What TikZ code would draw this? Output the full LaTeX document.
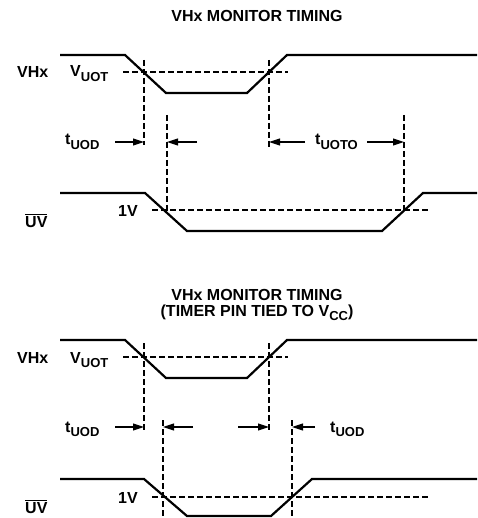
\documentclass[tikz,border=0pt]{standalone}
\usepackage{fontspec}
\setmainfont{Liberation Sans}
\usetikzlibrary{arrows.meta}
\newcommand{\sbs}[1]{\raisebox{-0.28em}{\fontsize{13}{13}\selectfont #1}}
\begin{document}
\begin{tikzpicture}[x=1pt,y=-1pt,
  font=\bfseries\fontsize{16}{17}\selectfont,
  wave/.style={line width=2.2pt, line join=miter},
  guide/.style={line width=1.1pt, dash pattern=on 6pt off 3pt},
  dim/.style={line width=1.1pt, -{Triangle[length=11pt,width=7pt]}},
  lbl/.style={inner sep=0pt, anchor=base west},
  ttl/.style={inner sep=0pt, anchor=base}]
\useasboundingbox (0,0) rectangle (477,518);

% ---------- top diagram ----------
\node[ttl] (title1) at (257,22) {VHx MONITOR TIMING};

\node[lbl] (vhxA) at (17,77.5) {VHx};
\node[lbl] (vuotA) at (70,77) {V\sbs{UOT}};
\node[lbl] (tuodA) at (65,145) {t\sbs{UOD}};
\node[lbl] (tuotoA) at (315,145) {t\sbs{UOTO}};
\node[lbl] (uvA) at (25,227) {$\overline{\mbox{UV}}$};
\node[lbl] (onevA) at (118,217) {1V};

\draw[wave] (60,55) -- (125,55) -- (166,93) -- (247,93) -- (287,55) -- (477,55);
\draw[guide] (123,72) -- (288,72);
\draw[guide] (144,60) -- (144,145);
\draw[guide] (269,60) -- (269,147);
\draw[guide] (167,115) -- (167,212);
\draw[guide] (404,115) -- (404,212);

\draw[wave] (60,193) -- (145,193) -- (187,231) -- (382,231) -- (423,193) -- (477,193);
\draw[guide] (152,210) -- (428,210);

\coordinate (a1s) at (115,142); \coordinate (a1e) at (144,142);
\coordinate (a2s) at (197,142); \coordinate (a2e) at (167,142);
\coordinate (a3s) at (305,142); \coordinate (a3e) at (269,142);
\coordinate (a4s) at (367,142); \coordinate (a4e) at (404,142);
\draw[dim] (a1s) -- (a1e);
\draw[dim] (a2s) -- (a2e);
\draw[dim] (a3s) -- (a3e);
\draw[dim] (a4s) -- (a4e);

% ---------- bottom diagram ----------
\node[ttl] (title2) at (257,300) {VHx MONITOR TIMING};
\node[ttl] (title3) at (257,316) {(TIMER PIN TIED TO V\sbs{CC})};

\node[lbl] (vhxB) at (17,363) {VHx};
\node[lbl] (vuotB) at (70,363) {V\sbs{UOT}};
\node[lbl] (tuodB) at (65,432) {t\sbs{UOD}};
\node[lbl] (tuodC) at (330,432) {t\sbs{UOD}};
\node[lbl] (uvB) at (25,513) {$\overline{\mbox{UV}}$};
\node[lbl] (onevB) at (118,503) {1V};

\draw[wave] (60,340) -- (125,340) -- (166,378) -- (247,378) -- (287,340) -- (477,340);
\draw[guide] (123,357) -- (288,357);
\draw[guide] (144,343) -- (144,432);
\draw[guide] (269,343) -- (269,432);
\draw[guide] (163,420) -- (163,518);
\draw[guide] (292,420) -- (292,518);

\draw[wave] (60,479) -- (144,479) -- (187,516) -- (271,516) -- (312,479) -- (477,479);
\draw[guide] (152,497) -- (428,497);

\coordinate (b1s) at (115,427); \coordinate (b1e) at (144,427);
\coordinate (b2s) at (193,427); \coordinate (b2e) at (163,427);
\coordinate (b3s) at (238,427); \coordinate (b3e) at (269,427);
\coordinate (b4s) at (315,427); \coordinate (b4e) at (292,427);
\draw[dim] (b1s) -- (b1e);
\draw[dim] (b2s) -- (b2e);
\draw[dim] (b3s) -- (b3e);
\draw[dim] (b4s) -- (b4e);
\end{tikzpicture}
\end{document}
